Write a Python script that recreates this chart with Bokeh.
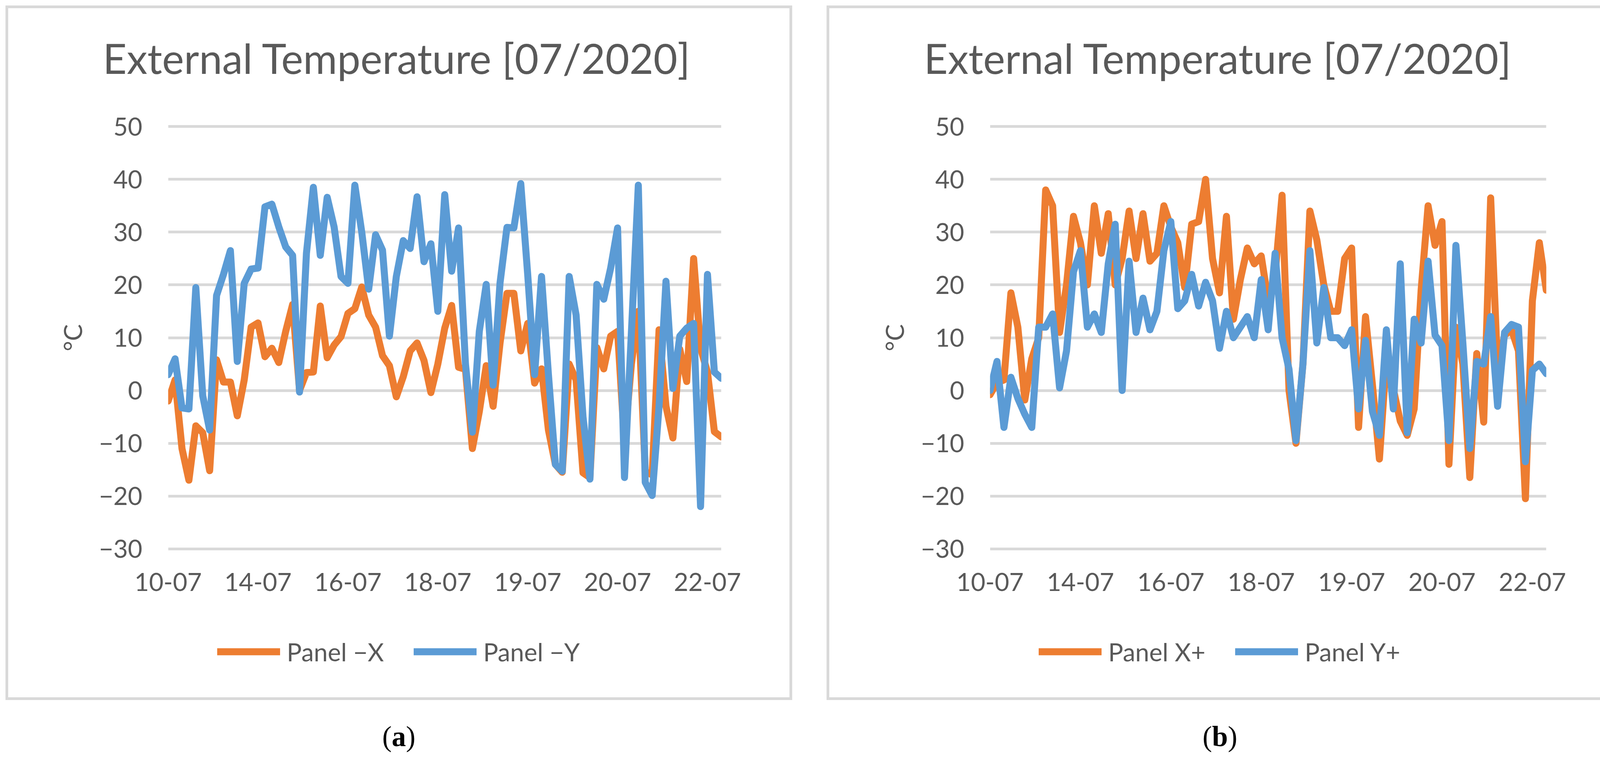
from bokeh.plotting import figure
from bokeh.models import Range1d, FixedTicker, Legend, LegendItem, Spacer, Div
from bokeh.layouts import row, column
from bokeh.embed import file_html
from bokeh.resources import INLINE

# ---------------- data ----------------
point_index = list(range(81))
x_tick_positions = [0, 13, 26, 39, 52, 65, 78]
x_tick_labels = ["10-07", "14-07", "16-07", "18-07", "19-07", "20-07", "22-07"]
y_ticks = [-30, -20, -10, 0, 10, 20, 30, 40, 50]
y_tick_labels = ["\u221230", "\u221220", "\u221210", "0", "10", "20", "30", "40", "50"]

panel_minus_x = [-2, 2, -11, -17, -6.7, -8, -15.2, 5.8, 1.6, 1.6, -4.8, 2, 12, 12.8, 6.4, 8, 5.3,
                 11.2, 16.3, 0, 3.4, 3.5, 16, 6.2, 8.6, 10.2, 14.6, 15.5, 19.6, 14.3, 12, 6.6, 4.7,
                 -1.2, 2.6, 7.5, 9, 5.7, -0.4, 5, 11.8, 16.1, 4.4, 4, -11, -4, 4.7, -3, 9, 18.4,
                 18.4, 7.5, 12.7, 1.4, 4.1, -7.5, -14, -15.5, 5, 2, -15.6, -16.5, 8.1, 4.1, 10.3,
                 11.2, -10, 5, 15, -15.3, -16, 11.5, -3, -9, 7.8, 1.7, 25, 8, 3.5, -7.8, -8.8]
panel_minus_y = [3, 6, -3.3, -3.5, 19.5, -1, -7.5, 18, 22, 26.5, 5.5, 20.3, 23, 23.2, 34.8, 35.3,
                 31, 27.2, 25.6, -0.3, 26, 38.5, 25.6, 36.6, 31, 21.6, 20.3, 38.9, 30, 19.2, 29.5,
                 26.6, 10.3, 21.6, 28.4, 26.9, 36.7, 24.4, 27.8, 15, 37.1, 22.6, 30.8, 5, -7.9,
                 11.2, 20.1, 1, 20.4, 30.9, 30.8, 39.2, 22, 3, 21.6, 3, -14, -15.3, 21.6, 14.3, -5,
                 -16.8, 20.1, 17.3, 23.2, 30.8, -16.5, 11, 38.9, -17.4, -19.9, -3, 20.7, 0.4, 10.3,
                 11.8, 12.7, -22, 22, 3.5, 2.3]
panel_x_plus = [-0.8, 1.5, 2, 18.5, 12, -1.8, 6, 10, 38, 35, 11, 20, 33, 28, 20, 35, 26, 33.5,
                20, 25, 34, 25, 33.5, 24.5, 26, 35, 31, 28, 19.5, 31.5, 32, 40, 25, 18.5, 33,
                13.5, 21, 27, 24, 25.5, 17, 22, 37, 0, -10, 5, 34, 28.5, 20, 15, 15, 25, 27, -7,
                14, 1, -13, 6, 0.3, -5.8, -8.5, -3.5, 19, 35, 27.5, 32, -14, 12, 5, -16.5, 7, -6,
                36.5, 4, 10.5, 11.5, 7.5, -20.5, 17, 28, 19]
panel_y_plus = [0, 5.5, -7, 2.5, -1.5, -4.5, -7, 12, 12, 14.5, 0.5, 7.5, 22.5, 26.5, 12, 14.5,
                11, 24, 31.5, 0, 24.5, 11, 17.5, 11.5, 15, 26.5, 32, 15.5, 17, 22, 16, 20.5, 17,
                8, 15, 10, 12, 14, 10, 21, 11.5, 26, 10, 4, -9.5, 5, 26.5, 9, 19.5, 10, 10, 8.5,
                11.5, -3.5, 9.5, -4, -8.5, 11.5, -3.5, 24, -8, 13.5, 9, 24.5, 10.5, 8.5, -9.5,
                27.5, 9, -11, 5.5, 5, 14, -3, 11, 12.5, 12, -13.5, 3.8, 5, 3.2]

title_text = "External Temperature [07/2020]"
y_label = "\u00b0C"
legend_a = ["Panel \u2212X", "Panel \u2212Y"]
legend_b = ["Panel X+", "Panel Y+"]
captions = ["a", "b"]

ORANGE = "#ED7D31"
BLUE = "#5B9BD5"
TEXT = "#595959"
GRID = "#D9D9D9"
FONT = "Lato"

W = 2014                              # panel width inside the light-grey frame line
HT, HM, HL, HB = 240, 1360, 106, 71   # title / chart / legend / bottom gap (sum 1777)
TOP, FH = 64, 1091


def line_kw(color):
    return dict(line_color=color, line_width=18, line_join="round", line_cap="round")


def make_panel(orange, blue, names, frame_left, frame_width, legend_x):
    head = Div(text=('<div style="font-family:Lato;font-size:106px;line-height:1;'
                     'color:#595959;text-align:center;padding-top:81px;white-space:nowrap;'
                     'position:relative;left:-6px;width:%dpx">%s</div>' % (W, title_text)),
               width=W, height=HT, margin=0)

    p = figure(width=W, height=HM, output_backend="svg", toolbar_location=None, title=None,
               x_range=Range1d(0, 80), y_range=Range1d(-30.4, 50.4),
               min_border_left=frame_left, min_border_right=W - frame_left - frame_width,
               min_border_top=TOP, min_border_bottom=HM - TOP - FH,
               background_fill_color=None, border_fill_color=None,
               outline_line_color=None)

    for ax in (p.xaxis[0], p.yaxis[0]):
        ax.axis_line_color = None
        ax.major_tick_line_color = None
        ax.minor_tick_line_color = None
        ax.major_tick_in = 0
        ax.major_label_text_font = FONT
        ax.major_label_text_font_size = "64px"
        ax.major_label_text_color = TEXT

    xa = p.xaxis[0]
    xa.ticker = FixedTicker(ticks=x_tick_positions)
    xa.major_label_overrides = dict(zip(x_tick_positions, x_tick_labels))
    xa.major_tick_out = 0
    xa.major_label_standoff = 56

    ya = p.yaxis[0]
    ya.ticker = FixedTicker(ticks=y_ticks)
    ya.major_label_overrides = dict(zip(y_ticks, y_tick_labels))
    ya.major_tick_out = 61
    ya.major_label_standoff = 5
    ya.axis_label = y_label
    ya.axis_label_text_font = FONT
    ya.axis_label_text_font_size = "64px"
    ya.axis_label_text_font_style = "normal"
    ya.axis_label_text_color = TEXT
    ya.axis_label_standoff = 26

    p.xgrid.grid_line_color = None
    p.ygrid.grid_line_color = GRID
    p.ygrid.grid_line_width = 7

    p.line(point_index, orange, **line_kw(ORANGE))
    p.line(point_index, blue, **line_kw(BLUE))

    # legend strip: its plot frame is aligned with the chart frame by the column layout
    lg = figure(width=W, height=HL, output_backend="svg", toolbar_location=None, title=None,
                x_range=Range1d(0, 80), y_range=Range1d(1000, 1001),
                x_axis_location=None, y_axis_location=None,
                min_border=0, min_border_left=0, min_border_right=0,
                min_border_top=0, min_border_bottom=0,
                background_fill_color=None, border_fill_color=None,
                outline_line_color=None)
    lg.grid.visible = False
    l1 = lg.line(point_index, orange, **line_kw(ORANGE))
    l2 = lg.line(point_index, blue, **line_kw(BLUE))
    legend = Legend(items=[LegendItem(label=names[0], renderers=[l1]),
                           LegendItem(label=names[1], renderers=[l2])],
                    orientation="horizontal", location=(legend_x, 13),
                    glyph_width=161, glyph_height=20, label_height=80,
                    label_standoff=17, spacing=76,
                    padding=0, margin=0, border_line_color=None,
                    background_fill_alpha=0,
                    label_text_font=FONT, label_text_font_size="64px",
                    label_text_color=TEXT)
    lg.add_layout(legend)

    return column(head, p, lg, Spacer(width=W, height=HB),
                  styles={"outline": "7px solid #d9d9d9", "outline-offset": "-7px"})


panelA = make_panel(panel_minus_x, panel_minus_y, legend_a, 416, 1416, 126)
panelB = make_panel(panel_x_plus, panel_y_plus, legend_b, 418, 1424, 125)


def caption(letter):
    return Div(text=('<div style="font-family:\'Liberation Serif\';font-size:73px;line-height:1;'
                     'color:#000000;text-align:center;width:%dpx">(<b>%s</b>)</div>' % (W, letter)),
               width=W, height=80, margin=0)


layout = column(Spacer(height=14),
                row(Spacer(width=14), panelA, Spacer(width=88), panelB),
                Spacer(height=57),
                row(Spacer(width=14), caption(captions[0]), Spacer(width=88), caption(captions[1])))

open("out.html", "w").write(file_html(layout, INLINE))
